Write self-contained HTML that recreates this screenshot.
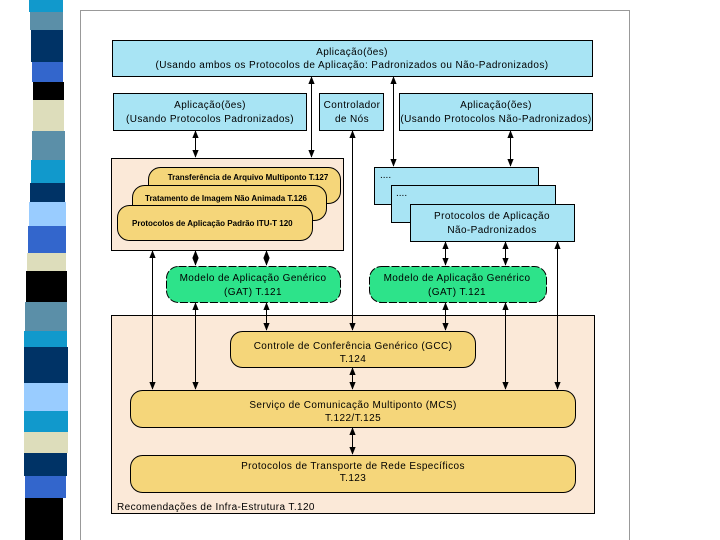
<!DOCTYPE html>
<html><head><meta charset="utf-8"><style>
body{margin:0;width:720px;height:540px;background:#fff;overflow:hidden}
svg{display:block;font-family:"Liberation Sans",sans-serif}
</style></head><body>
<svg width="720" height="540" viewBox="0 0 720 540">
<defs>
<marker id="a" viewBox="0 0 10 10" refX="9" refY="5" markerWidth="8" markerHeight="8" orient="auto-start-reverse"><path d="M0,1L10,5L0,9z" fill="#000"/></marker>
</defs>
<g>
<rect x="29" y="0" width="34" height="12" fill="#1199cc"/>
<rect x="30" y="12" width="33" height="18" fill="#5b8fa8"/>
<rect x="31" y="30" width="32" height="32" fill="#003366"/>
<rect x="32" y="62" width="31" height="20" fill="#3366cc"/>
<rect x="33" y="82" width="31" height="18" fill="#000"/>
<rect x="33" y="100" width="31" height="31" fill="#ddddbb"/>
<rect x="32" y="131" width="33" height="29" fill="#5b8fa8"/>
<rect x="31" y="160" width="34" height="23" fill="#1199cc"/>
<rect x="30" y="183" width="35" height="19" fill="#003366"/>
<rect x="29" y="202" width="37" height="24" fill="#99ccff"/>
<rect x="28" y="226" width="38" height="27" fill="#3366cc"/>
<rect x="27" y="253" width="39" height="18" fill="#ddddbb"/>
<rect x="26" y="271" width="41" height="31" fill="#000"/>
<rect x="25" y="302" width="42" height="29" fill="#5b8fa8"/>
<rect x="24" y="331" width="43" height="16" fill="#1199cc"/>
<rect x="24" y="347" width="44" height="36" fill="#003366"/>
<rect x="24" y="383" width="44" height="28" fill="#99ccff"/>
<rect x="24" y="411" width="44" height="21" fill="#1199cc"/>
<rect x="24" y="432" width="44" height="21" fill="#ddddbb"/>
<rect x="24" y="453" width="43" height="23" fill="#003366"/>
<rect x="25" y="476" width="41" height="22" fill="#3366cc"/>
<rect x="25" y="498" width="38" height="42" fill="#000"/>
</g>
<rect x="80.5" y="10.5" width="549" height="535" fill="none" stroke="#999"/>
<g stroke="#000" stroke-width="1">
<rect x="112.5" y="40.5" width="480" height="36" fill="#a8e4f4"/>
<rect x="113.5" y="93.5" width="193" height="37" fill="#a8e4f4"/>
<rect x="319.5" y="93.5" width="64" height="37" fill="#a8e4f4"/>
<rect x="399.5" y="93.5" width="193" height="37" fill="#a8e4f4"/>
<rect x="111.5" y="158.5" width="232" height="92" fill="#fbe9d8"/>
<rect x="148.5" y="167.5" width="192" height="36" rx="12" fill="#f5d67a"/>
<rect x="132.5" y="185.5" width="194" height="35" rx="12" fill="#f5d67a"/>
<rect x="117.5" y="205.5" width="195" height="35" rx="12" fill="#f5d67a"/>
<rect x="374.5" y="167.5" width="164" height="37" fill="#a8e4f4"/>
<rect x="391.5" y="185.5" width="164" height="37" fill="#a8e4f4"/>
<rect x="410.5" y="204.5" width="164" height="37" fill="#a8e4f4"/>
<rect x="166.5" y="266.5" width="174" height="36" rx="12" fill="#2de38a" stroke-dasharray="8 2"/>
<rect x="369.5" y="266.5" width="177" height="36" rx="12" fill="#2de38a" stroke-dasharray="8 2"/>
<rect x="111.5" y="315.5" width="483" height="198" fill="#fbe9d8"/>
<rect x="230.5" y="331.5" width="245" height="36" rx="12" fill="#f5d67a"/>
<rect x="130.5" y="390.5" width="445" height="37" rx="12" fill="#f5d67a"/>
<rect x="130.5" y="455.5" width="445" height="37" rx="12" fill="#f5d67a"/>
</g>
<g stroke="#000" stroke-width="1" fill="none">
<line x1="311.5" y1="77" x2="311.5" y2="157" marker-start="url(#a)" marker-end="url(#a)"/>
<line x1="195.5" y1="131" x2="195.5" y2="157" marker-start="url(#a)" marker-end="url(#a)"/>
<line x1="352.5" y1="131" x2="352.5" y2="330" marker-start="url(#a)" marker-end="url(#a)"/>
<line x1="393.5" y1="77" x2="393.5" y2="166" marker-start="url(#a)" marker-end="url(#a)"/>
<line x1="510.5" y1="131" x2="510.5" y2="166" marker-start="url(#a)" marker-end="url(#a)"/>
<line x1="152.5" y1="251" x2="152.5" y2="389" marker-start="url(#a)" marker-end="url(#a)"/>
<line x1="195.5" y1="251" x2="195.5" y2="265" marker-start="url(#a)" marker-end="url(#a)"/>
<line x1="266.5" y1="251" x2="266.5" y2="265" marker-start="url(#a)" marker-end="url(#a)"/>
<line x1="195.5" y1="303" x2="195.5" y2="389" marker-start="url(#a)" marker-end="url(#a)"/>
<line x1="266.5" y1="303" x2="266.5" y2="330" marker-start="url(#a)" marker-end="url(#a)"/>
<line x1="445.5" y1="242" x2="445.5" y2="265" marker-start="url(#a)" marker-end="url(#a)"/>
<line x1="505.5" y1="242" x2="505.5" y2="265" marker-start="url(#a)" marker-end="url(#a)"/>
<line x1="445.5" y1="303" x2="445.5" y2="330" marker-start="url(#a)" marker-end="url(#a)"/>
<line x1="505.5" y1="303" x2="505.5" y2="389" marker-start="url(#a)" marker-end="url(#a)"/>
<line x1="557.5" y1="242" x2="557.5" y2="389" marker-start="url(#a)" marker-end="url(#a)"/>
<line x1="352.5" y1="368" x2="352.5" y2="389" marker-start="url(#a)" marker-end="url(#a)"/>
<line x1="352.5" y1="428" x2="352.5" y2="454" marker-start="url(#a)" marker-end="url(#a)"/>
</g>
<g font-size="10" fill="#000" text-anchor="middle" letter-spacing="0.4">
<text x="352" y="55">Aplicação(ões)</text>
<text x="352" y="68">(Usando ambos os Protocolos de Aplicação: Padronizados ou Não-Padronizados)</text>
<text x="210" y="108">Aplicação(ões)</text>
<text x="210" y="122">(Usando Protocolos Padronizados)</text>
<text x="352" y="108">Controlador</text>
<text x="352" y="122">de Nós</text>
<text x="496" y="108">Aplicação(ões)</text>
<text x="496" y="122">(Usando Protocolos Não-Padronizados)</text>
<text x="492" y="219">Protocolos de Aplicação</text>
<text x="492" y="233">Não-Padronizados</text>
<text x="253" y="281">Modelo de Aplicação Genérico</text>
<text x="253" y="295">(GAT) T.121</text>
<text x="457" y="281">Modelo de Aplicação Genérico</text>
<text x="457" y="295">(GAT) T.121</text>
<text x="353" y="349">Controle de Conferência Genérico (GCC)</text>
<text x="353" y="362">T.124</text>
<text x="353" y="408">Serviço de Comunicação Multiponto (MCS)</text>
<text x="353" y="421">T.122/T.125</text>
<text x="353" y="469">Protocolos de Transporte de Rede Específicos</text>
<text x="353" y="481">T.123</text>
</g>
<g font-size="8" font-weight="bold" fill="#000" text-anchor="middle">
<text x="248" y="180">Transferência de Arquivo Multiponto T.127</text>
<text x="226" y="201">Tratamento de Imagem Não Animada T.126</text>
</g>
<text x="132" y="226" font-size="8" font-weight="bold">Protocolos de Aplicação Padrão ITU-T 120</text>
<text x="380" y="178" font-size="10">....</text>
<text x="396" y="196" font-size="10">....</text>
<text x="117" y="510" font-size="10" letter-spacing="0.4">Recomendações de Infra-Estrutura T.120</text>
</svg>
</body></html>
